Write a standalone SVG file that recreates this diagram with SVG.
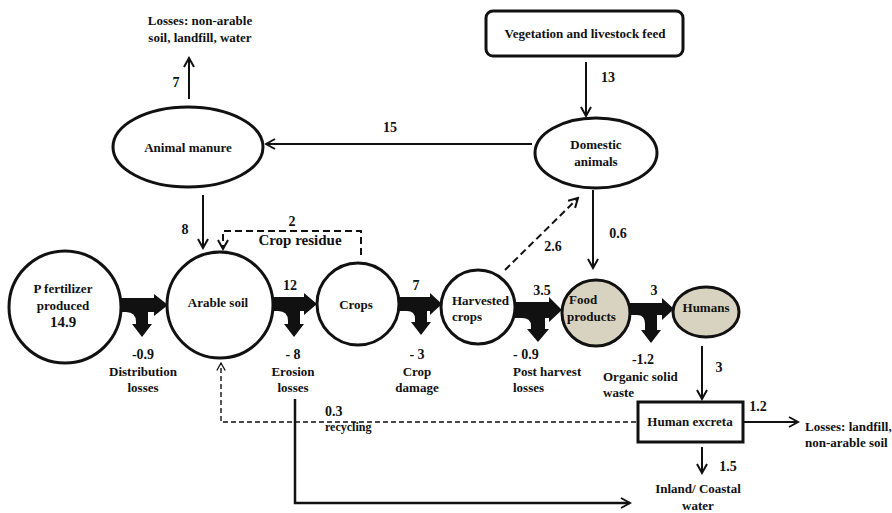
<svg xmlns="http://www.w3.org/2000/svg" width="892" height="513" viewBox="0 0 892 513">
  <defs>
    <marker id="chev" viewBox="0 0 12 12" refX="10" refY="6" markerWidth="12" markerHeight="12" markerUnits="userSpaceOnUse" orient="auto">
      <polyline points="1,1 10,6 1,11" fill="none" stroke="#111" stroke-width="2"/>
    </marker>
    <marker id="chevs" viewBox="0 0 12 12" refX="10" refY="6" markerWidth="10" markerHeight="10" markerUnits="userSpaceOnUse" orient="auto">
      <polyline points="1,1 10,6 1,11" fill="none" stroke="#111" stroke-width="1.6"/>
    </marker>
  </defs>
  <style>
    text { font-family: "Liberation Serif", "Times New Roman", serif; font-weight: bold; fill: #111; }
    .node { font-size: 13px; }
    .num { font-size: 14px; }
    .lbl { font-size: 13px; }
    .shape { fill: #fff; stroke: #111; stroke-width: 3; }
    .tan { fill: #d8d3c0; stroke: #111; stroke-width: 3; }
    .flow { fill: none; stroke: #111; stroke-width: 2; }
    .dash { fill: none; stroke: #111; stroke-width: 2; stroke-dasharray: 7 4; }
    .thin-dash { fill: none; stroke: #111; stroke-width: 1.4; stroke-dasharray: 5 3; }
    .thick { fill: #111; stroke: none; }
  </style>

  <!-- connectors -->
  <g id="connectors">
    <!-- thick split flows -->
    <path class="thick" d="M118,298 L154,298 L154,294 L168,305 L154,316 L154,312 L148,312 L148,324 L152,324 L142,337 L132,324 L136,324 L136,322 Q136,312 126,312 L118,312 Z"/>
    <path class="thick" d="M272,297 L304,297 L304,293 L317,304 L304,315 L304,311 L300,311 L300,324 L304,324 L294,337 L284,324 L288,324 L288,321 Q288,311 278,311 L272,311 Z"/>
    <path class="thick" d="M399,297 L430,297 L430,293 L442,304 L430,315 L430,311 L427,311 L427,322 L431,322 L421,335 L411,322 L415,322 L415,319 Q415,311 407,311 L399,311 Z"/>
    <path class="thick" d="M514,302 L549,302 L549,297 L562,310 L549,322 L549,318 L545,318 L545,329 L549,329 L538,342 L527,329 L531,329 L531,326 Q531,318 522,318 L514,318 Z"/>
    <path class="thick" d="M630,303 L662,303 L662,298 L674,309 L662,320 L662,315 L657,315 L657,330 L661,330 L651,343 L641,330 L645,330 L645,324 Q645,315 637,315 L630,315 Z"/>

    <!-- thin solid flows -->
    <line class="flow" x1="586" y1="62" x2="586" y2="116" marker-end="url(#chev)"/>
    <line class="flow" x1="532" y1="144" x2="266" y2="144" marker-end="url(#chev)"/>
    <line class="flow" x1="189" y1="99" x2="189" y2="58" marker-end="url(#chev)"/>
    <line class="flow" x1="203" y1="195" x2="203" y2="248" marker-end="url(#chev)"/>
    <line class="flow" x1="593" y1="190" x2="593" y2="268" marker-end="url(#chev)"/>
    <line class="flow" x1="702" y1="346" x2="702" y2="399" marker-end="url(#chev)"/>
    <line class="flow" x1="743" y1="422" x2="798" y2="422" marker-end="url(#chev)"/>
    <line class="flow" x1="702" y1="447" x2="702" y2="473" marker-end="url(#chev)"/>
    <polyline points="295,399 295,503 630,503" fill="none" stroke="#111" stroke-width="2.5" marker-end="url(#chev)"/>

    <!-- dashed flows -->
    <polyline class="dash" points="361,255 361,231 223,231 223,249" marker-end="url(#chev)"/>
    <line class="dash" x1="505" y1="270" x2="578" y2="198" marker-end="url(#chev)"/>
    <polyline class="thin-dash" points="636,422 221,422 221,363" marker-end="url(#chevs)"/>
  </g>

  <!-- nodes -->
  <g id="vegetation">
    <rect class="shape" x="486" y="11" width="197" height="45" rx="7"/>
    <text class="node" x="585" y="38" text-anchor="middle">Vegetation and livestock  feed</text>
  </g>
  <g id="domestic-animals">
    <ellipse class="shape" cx="596" cy="153" rx="61" ry="35"/>
    <text class="node" x="596" y="149" text-anchor="middle">Domestic</text>
    <text class="node" x="596" y="166" text-anchor="middle">animals</text>
  </g>
  <g id="animal-manure">
    <ellipse class="shape" cx="188" cy="147" rx="75" ry="40"/>
    <text class="node" x="188" y="152" text-anchor="middle">Animal manure</text>
  </g>
  <g id="p-fertilizer">
    <circle class="shape" cx="65" cy="307" r="56"/>
    <text class="node" x="63" y="293" text-anchor="middle">P fertilizer</text>
    <text class="node" x="63" y="310" text-anchor="middle">produced</text>
    <text x="63" y="327" text-anchor="middle" font-size="15">14.9</text>
  </g>
  <g id="arable-soil">
    <circle class="shape" cx="220" cy="305" r="53"/>
    <text class="node" x="218" y="307" text-anchor="middle">Arable soil</text>
  </g>
  <g id="crops">
    <circle class="shape" cx="358" cy="304" r="41"/>
    <text class="node" x="356" y="309" text-anchor="middle">Crops</text>
  </g>
  <g id="harvested-crops">
    <circle class="shape" cx="478" cy="307" r="37"/>
    <text class="node" x="452" y="305">Harvested</text>
    <text class="node" x="452" y="321">crops</text>
  </g>
  <g id="food-products">
    <ellipse class="tan" cx="596" cy="313" rx="34" ry="33"/>
    <text class="node" x="569" y="304">Food</text>
    <text class="node" x="567" y="321">products</text>
  </g>
  <g id="humans">
    <ellipse class="tan" cx="706" cy="312" rx="33" ry="25"/>
    <text class="node" x="706" y="312" text-anchor="middle">Humans</text>
  </g>
  <g id="human-excreta">
    <rect class="shape" x="638" y="402" width="105" height="40"/>
    <text class="node" x="690" y="426" text-anchor="middle">Human excreta</text>
  </g>

  <!-- flow values and sink labels -->
  <g id="labels">
    <text class="lbl" x="200" y="25" text-anchor="middle">Losses: non-arable</text>
    <text class="lbl" x="200" y="42" text-anchor="middle">soil, landfill, water</text>
    <text class="num" x="176" y="87" text-anchor="middle">7</text>
    <text class="num" x="390" y="132" text-anchor="middle">15</text>
    <text class="num" x="608" y="82" text-anchor="middle">13</text>
    <text class="num" x="185" y="234" text-anchor="middle">8</text>
    <text class="num" x="292" y="226" text-anchor="middle">2</text>
    <text x="300" y="245" text-anchor="middle" font-size="15">Crop residue</text>
    <text class="num" x="618" y="238" text-anchor="middle">0.6</text>
    <text class="num" x="553" y="251" text-anchor="middle">2.6</text>

    <text class="num" x="290" y="290" text-anchor="middle">12</text>
    <text class="num" x="416" y="290" text-anchor="middle">7</text>
    <text class="num" x="542" y="295" text-anchor="middle">3.5</text>
    <text class="num" x="654" y="295" text-anchor="middle">3</text>

    <text class="num" x="143" y="359" text-anchor="middle">-0.9</text>
    <text class="lbl" x="143" y="376" text-anchor="middle">Distribution</text>
    <text class="lbl" x="143" y="392" text-anchor="middle">losses</text>

    <text class="num" x="293" y="359" text-anchor="middle">- 8</text>
    <text class="lbl" x="293" y="376" text-anchor="middle">Erosion</text>
    <text class="lbl" x="293" y="392" text-anchor="middle">losses</text>

    <text class="num" x="417" y="359" text-anchor="middle">- 3</text>
    <text class="lbl" x="417" y="376" text-anchor="middle">Crop</text>
    <text class="lbl" x="417" y="392" text-anchor="middle">damage</text>

    <text class="num" x="513" y="359">- 0.9</text>
    <text class="lbl" x="513" y="376">Post harvest</text>
    <text class="lbl" x="513" y="392">losses</text>

    <text class="num" x="643" y="364" text-anchor="middle">-1.2</text>
    <text class="lbl" x="603" y="381">Organic solid</text>
    <text class="lbl" x="603" y="397">waste</text>

    <text class="num" x="719" y="372" text-anchor="middle">3</text>
    <text class="num" x="758" y="411" text-anchor="middle">1.2</text>
    <text class="lbl" x="805" y="431">Losses: landfill,</text>
    <text class="lbl" x="805" y="447">non-arable soil</text>
    <text class="num" x="728" y="471" text-anchor="middle">1.5</text>
    <text class="lbl" x="698" y="493" text-anchor="middle">Inland/ Coastal</text>
    <text class="lbl" x="698" y="510" text-anchor="middle">water</text>

    <text class="num" x="325" y="416">0.3</text>
    <text x="325" y="431" font-size="12">recycling</text>
  </g>
</svg>
